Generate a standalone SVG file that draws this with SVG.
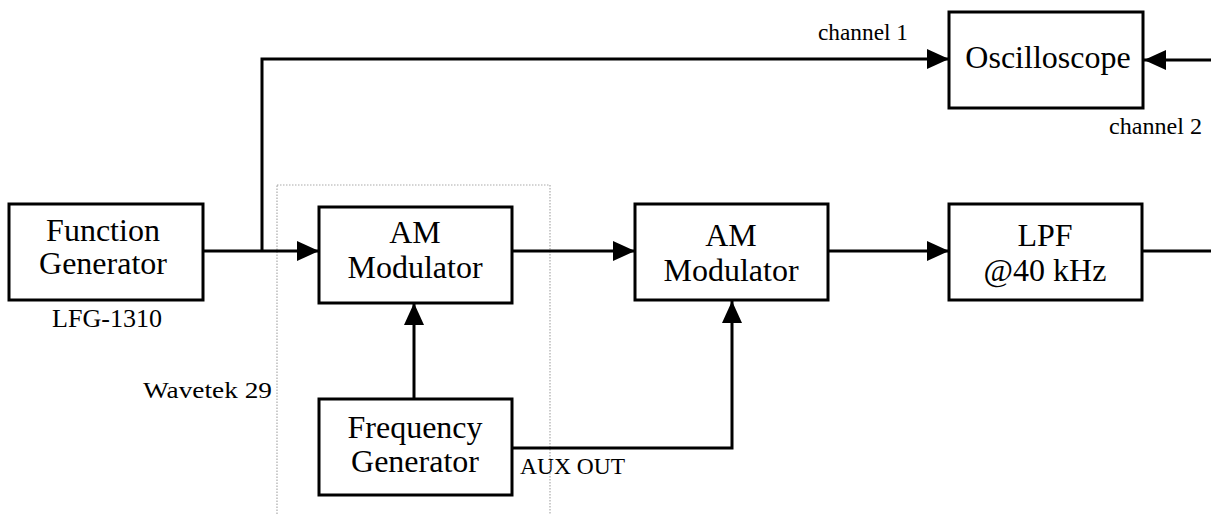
<svg xmlns="http://www.w3.org/2000/svg" width="1211" height="514" viewBox="0 0 1211 514">
  <style>
    .box { fill: #fff; stroke: #000; stroke-width: 3; }
    .lbl { font-family: "Liberation Serif", "Times New Roman", serif; font-size: 32px; fill: #000; text-anchor: middle; }
    .small { font-family: "Liberation Serif", "Times New Roman", serif; font-size: 23px; fill: #000; }
    .wire { fill: none; stroke: #000; stroke-width: 3; }
    .group { fill: none; stroke: #aaa; stroke-width: 1.2; stroke-dasharray: 1.5 1.5; }
  </style>
  <defs>
    <marker id="arr" markerUnits="userSpaceOnUse" markerWidth="22" markerHeight="20" refX="22" refY="10" orient="auto">
      <path d="M0,0 L22,10 L0,20 z" fill="#000"/>
    </marker>
  </defs>
  <rect width="1211" height="514" fill="#fff"/>

  <rect id="wavetek-group" class="group" x="277" y="185" width="273" height="340"/>

  <g id="connectors">
    <path class="wire" d="M203,251 H319" marker-end="url(#arr)"/>
    <path class="wire" d="M262,251 V59 H949" marker-end="url(#arr)"/>
    <path class="wire" d="M512,251 H635" marker-end="url(#arr)"/>
    <path class="wire" d="M828,251 H949" marker-end="url(#arr)"/>
    <path class="wire" d="M1141,251 H1211"/>
    <path class="wire" d="M1211,60 H1144" marker-end="url(#arr)"/>
    <path class="wire" d="M414,399 V303" marker-end="url(#arr)"/>
    <path class="wire" d="M512,448 H732 V301" marker-end="url(#arr)"/>
  </g>

  <g id="function-generator">
    <rect class="box" x="9" y="204" width="194" height="96"/>
    <text class="lbl" x="103" y="241">Function</text>
    <text class="lbl" x="103" y="274">Generator</text>
  </g>
  <g id="am-modulator-1">
    <rect class="box" x="319" y="207" width="193" height="96"/>
    <text class="lbl" x="415" y="243">AM</text>
    <text class="lbl" x="415" y="278">Modulator</text>
  </g>
  <g id="frequency-generator">
    <rect class="box" x="319" y="399" width="193" height="96"/>
    <text class="lbl" x="415" y="438">Frequency</text>
    <text class="lbl" x="415" y="472">Generator</text>
  </g>
  <g id="am-modulator-2">
    <rect class="box" x="635" y="204" width="193" height="96"/>
    <text class="lbl" x="731" y="246">AM</text>
    <text class="lbl" x="731" y="281">Modulator</text>
  </g>
  <g id="lpf">
    <rect class="box" x="949" y="204" width="193" height="96"/>
    <text class="lbl" x="1045" y="246">LPF</text>
    <text class="lbl" x="1045" y="281">@40 kHz</text>
  </g>
  <g id="oscilloscope">
    <rect class="box" x="949" y="12" width="194" height="96"/>
    <text class="lbl" x="1048" y="68">Oscilloscope</text>
  </g>

  <g id="labels">
    <text class="small" x="818" y="40" textLength="90" lengthAdjust="spacingAndGlyphs">channel 1</text>
    <text class="small" x="1109" y="134" textLength="93" lengthAdjust="spacingAndGlyphs">channel 2</text>
    <text class="small" x="52" y="327" style="font-size:26px" textLength="110" lengthAdjust="spacingAndGlyphs">LFG-1310</text>
    <text class="small" x="143" y="398" style="font-size:24px" textLength="129" lengthAdjust="spacingAndGlyphs">Wavetek 29</text>
    <text class="small" x="520" y="474" textLength="105" lengthAdjust="spacingAndGlyphs">AUX OUT</text>
  </g>
</svg>
